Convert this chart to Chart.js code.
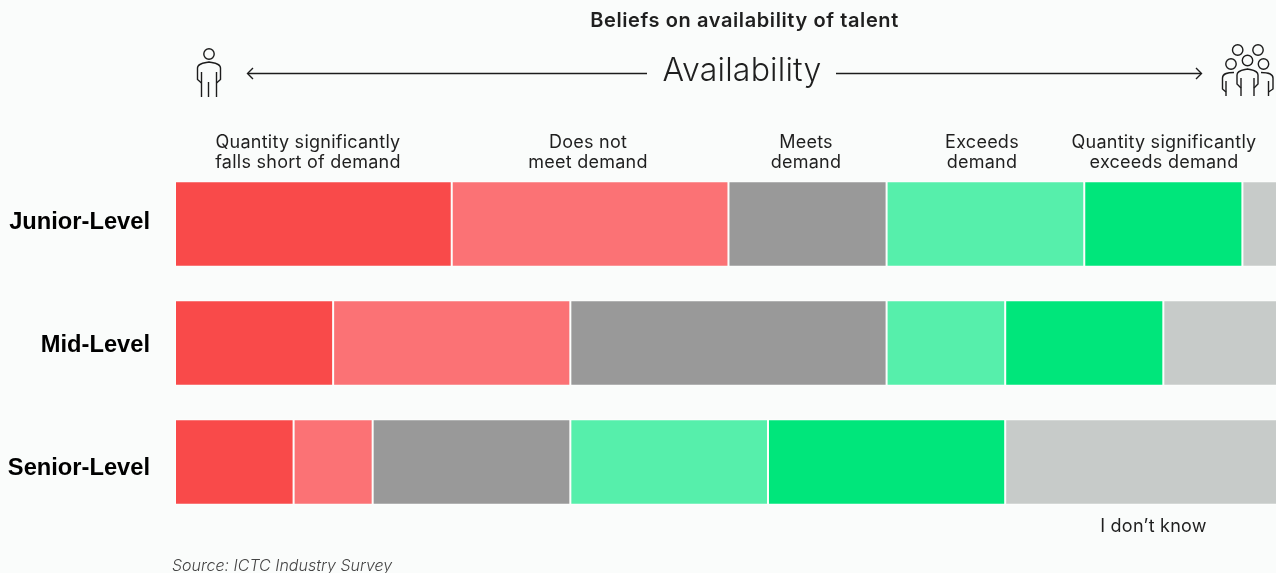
<!DOCTYPE html>
<html>
<head>
<meta charset="utf-8">
<script src="https://cdn.jsdelivr.net/npm/chart.js@4"></script>
<style>
  html, body { margin: 0; padding: 0; background: #fafcfb; overflow: hidden; }
  canvas { display: block; }
</style>
</head>
<body>
<canvas id="chart" width="1276" height="573" style="width:1276px;height:573px"></canvas>
<script>
// Survey responses per seniority level, one array per answer.
const levels = ['Junior-Level', 'Mid-Level', 'Senior-Level'];
const shortOfDemand = [7, 4, 3];
const notMeetDemand = [7, 6, 2];
const meetsDemand = [4, 8, 5];
const exceedsDemand = [5, 3, 5];
const farExceedsDemand = [4, 4, 6];
const dontKnow = [1, 3, 7];

const answerNames = ['Quantity significantly falls short of demand', 'Does not meet demand', 'Meets demand', 'Exceeds demand', 'Quantity significantly exceeds demand', 'I don’t know'];
const answerColors = ['#f94a4a', '#fb7275', '#999999', '#56efab', '#00e67b', '#c7cbc9'];

const titleText = 'Beliefs on availability of talent';
const axisWord = 'Availability';
const sourceText = 'Source: ICTC Industry Survey';
const BODY_FONT = 'Inter, sans-serif';

const headerLabels = [
  { lines: ['Quantity significantly', 'falls short of demand'], x: 308 },
  { lines: ['Does not', 'meet demand'], x: 588 },
  { lines: ['Meets', 'demand'], x: 806 },
  { lines: ['Exceeds', 'demand'], x: 982 },
  { lines: ['Quantity significantly', 'exceeds demand'], x: 1164 }
];
const levelLabelY = [221, 344, 467];

function circle(ctx, x, y, r) {
  ctx.beginPath();
  ctx.arc(x, y, r, 0, Math.PI * 2);
  ctx.stroke();
}

function poly(ctx, pts) {
  ctx.beginPath();
  pts.forEach((p, i) => i ? ctx.lineTo(p[0], p[1]) : ctx.moveTo(p[0], p[1]));
  ctx.stroke();
}

function drawPerson(ctx) {
  circle(ctx, 209, 54, 5.2);
  ctx.beginPath();
  ctx.moveTo(201.5, 83);
  ctx.lineTo(197.5, 79.5);
  ctx.lineTo(197.5, 68);
  ctx.bezierCurveTo(197.5, 63, 205, 63, 209, 62);
  ctx.bezierCurveTo(213, 63, 220.5, 63, 220.5, 68);
  ctx.lineTo(220.5, 79.5);
  ctx.lineTo(216.5, 83);
  ctx.stroke();
  poly(ctx, [[201.5, 72], [201.5, 97]]);
  poly(ctx, [[216.5, 72], [216.5, 97]]);
  poly(ctx, [[208.5, 82], [208.5, 97]]);
}

function drawGroup(ctx) {
  circle(ctx, 1237.7, 50, 5.2);
  circle(ctx, 1258, 50, 5.2);
  circle(ctx, 1231, 64, 5.2);
  circle(ctx, 1247.5, 60.5, 5.2);
  circle(ctx, 1263.5, 64, 5.2);
  // centre figure
  ctx.beginPath();
  ctx.moveTo(1241, 88);
  ctx.lineTo(1237, 84);
  ctx.lineTo(1237, 75);
  ctx.bezierCurveTo(1237, 70, 1244, 70, 1247.5, 69);
  ctx.bezierCurveTo(1251, 70, 1258, 70, 1258, 75);
  ctx.lineTo(1258, 84);
  ctx.lineTo(1254, 88);
  ctx.stroke();
  poly(ctx, [[1241, 78], [1241, 96]]);
  poly(ctx, [[1254, 78], [1254, 96]]);
  // left figure
  ctx.beginPath();
  ctx.moveTo(1234, 72.5);
  ctx.bezierCurveTo(1228, 72.5, 1222.5, 73, 1222.5, 78);
  ctx.lineTo(1222.5, 89);
  ctx.lineTo(1226, 92);
  ctx.stroke();
  poly(ctx, [[1226, 81], [1226, 96]]);
  // right figure
  ctx.beginPath();
  ctx.moveTo(1261, 72.5);
  ctx.bezierCurveTo(1267, 72.5, 1273, 73, 1273, 78);
  ctx.lineTo(1273, 89);
  ctx.lineTo(1268.5, 92);
  ctx.stroke();
  poly(ctx, [[1268.5, 81], [1268.5, 96]]);
}

function drawArrows(ctx) {
  poly(ctx, [[248, 73.5], [647, 73.5]]);
  poly(ctx, [[253, 68], [247.5, 73.5], [253, 79]]);
  poly(ctx, [[836, 73.5], [1201, 73.5]]);
  poly(ctx, [[1196, 68], [1201.5, 73.5], [1196, 79]]);
}

// Header, icons, row names and footnote, painted around the bars.
const annotations = {
  id: 'annotations',
  afterDraw(chart) {
    const ctx = chart.ctx;
    ctx.save();
    ctx.textBaseline = 'alphabetic';

    ctx.fillStyle = '#1f1f1f';
    ctx.textAlign = 'center';
    ctx.letterSpacing = '0.6px';
    ctx.font = '600 20px ' + BODY_FONT;
    ctx.fillText(titleText, 744.5, 27);

    ctx.letterSpacing = '0.2px';
    ctx.font = '300 32px ' + BODY_FONT;
    ctx.fillText(axisWord, 742, 81);

    ctx.letterSpacing = '0.25px';
    ctx.font = '400 18px ' + BODY_FONT;
    headerLabels.forEach(h => {
      ctx.fillText(h.lines[0], h.x, 148);
      ctx.fillText(h.lines[1], h.x, 168);
    });
    ctx.fillText(answerNames[5], 1153.5, 532);

    ctx.letterSpacing = '0px';
    ctx.fillStyle = '#000000';
    ctx.textAlign = 'right';
    ctx.font = 'bold 23.7px "Liberation Sans", sans-serif';
    levels.forEach((name, i) => ctx.fillText(name, 150, levelLabelY[i] + 8));

    ctx.fillStyle = '#444444';
    ctx.textAlign = 'left';
    ctx.font = 'italic 300 16px Inter, sans-serif';
    ctx.fillText(sourceText, 172, 571);

    ctx.strokeStyle = '#1c1c1c';
    ctx.lineWidth = 1.4;
    drawArrows(ctx);
    drawPerson(ctx);
    drawGroup(ctx);
    ctx.restore();
  }
};

const answerValues = [shortOfDemand, notMeetDemand, meetsDemand, exceedsDemand, farExceedsDemand, dontKnow];

new Chart(document.getElementById('chart'), {
  type: 'bar',
  plugins: [annotations],
  data: {
    labels: levels,
    datasets: answerValues.map((data, i) => ({
      label: answerNames[i],
      data,
      backgroundColor: answerColors[i],
      borderColor: '#fdfefd',
      borderWidth: 1,
      borderSkipped: false,
      categoryPercentage: 0.72,
      barPercentage: 1
    }))
  },
  options: {
    indexAxis: 'y',
    responsive: false,
    animation: false,
    events: [],
    layout: { padding: { left: 175, top: 164.5, bottom: 51.5, right: 0 } },
    plugins: { legend: { display: false }, tooltip: { enabled: false } },
    scales: {
      x: { stacked: true, display: false, min: 0, max: 27.85 },
      y: { stacked: true, display: false }
    }
  }
});
</script>
</body>
</html>
